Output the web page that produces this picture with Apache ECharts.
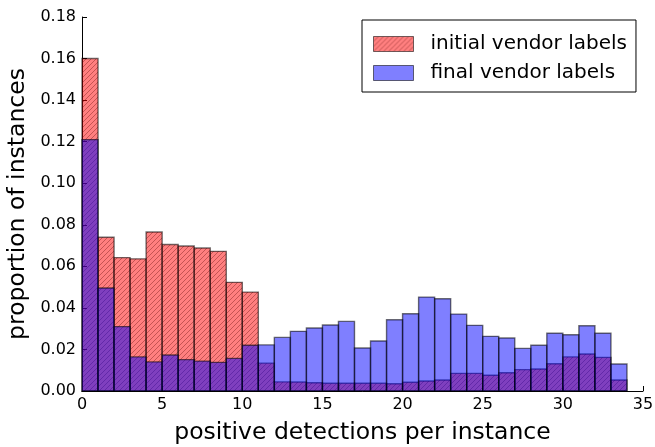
<!DOCTYPE html>
<html>
<head>
<meta charset="utf-8">
<script src="https://cdn.jsdelivr.net/npm/echarts@6/dist/echarts.min.js"></script>
<style>
  html, body { margin: 0; padding: 0; background: #fff; }
  #chart { width: 655px; height: 447px; }
</style>
</head>
<body>
<div id="chart"></div>
<script>
// Histogram bins: left edge of each unit-width bin
const binStart = [0,1,2,3,4,5,6,7,8,9,10,11,12,13,14,15,16,17,18,19,20,21,22,23,24,25,26,27,28,29,30,31,32,33];
// Proportion of instances per bin, initial vendor labels
const initialLabels = [0.160, 0.074, 0.0642, 0.0636, 0.0765, 0.0705, 0.0698, 0.0688, 0.0672, 0.0523, 0.0476, 0.0134, 0.0044, 0.0043, 0.0040, 0.0037, 0.0037, 0.0037, 0.0037, 0.0035, 0.0042, 0.0048, 0.0053, 0.0085, 0.0085, 0.0076, 0.0088, 0.0103, 0.0106, 0.0131, 0.0164, 0.0178, 0.0162, 0.0053];
// Proportion of instances per bin, final vendor labels
const finalLabels = [0.121, 0.0496, 0.031, 0.0164, 0.014, 0.0173, 0.0151, 0.0144, 0.0138, 0.0157, 0.022, 0.0222, 0.0258, 0.0287, 0.0303, 0.0318, 0.0335, 0.0207, 0.0241, 0.0343, 0.0372, 0.0452, 0.0444, 0.037, 0.0316, 0.0263, 0.0255, 0.0205, 0.022, 0.0278, 0.0271, 0.0314, 0.0278, 0.013];
const seriesNames = ['initial vendor labels', 'final vendor labels'];
const xTicks = [0, 5, 10, 15, 20, 25, 30, 35];
const yTicks = [0, 0.02, 0.04, 0.06, 0.08, 0.10, 0.12, 0.14, 0.16, 0.18];

const FONT = '"DejaVu Sans", sans-serif';

// Diagonal hatch tile for the red histogram
function hatchTile() {
  const s = 5;
  const c = document.createElement('canvas');
  c.width = s; c.height = s;
  const g = c.getContext('2d');
  g.fillStyle = 'rgba(255,0,0,0.5)';
  g.fillRect(0, 0, s, s);
  g.strokeStyle = 'rgba(90,0,0,0.35)';
  g.lineWidth = 1;
  g.beginPath();
  g.moveTo(0, s); g.lineTo(s, 0);
  g.moveTo(-1, 1); g.lineTo(1, -1);
  g.moveTo(s - 1, s + 1); g.lineTo(s + 1, s - 1);
  g.stroke();
  return c;
}
const redFill = { image: hatchTile(), repeat: 'repeat' };
const blueFill = 'rgba(0,0,255,0.5)';
const edge = 'rgba(0,0,0,0.55)';

function histRender(fill) {
  return function (params, api) {
    const x = api.value(0), y = api.value(1);
    const p0 = api.coord([x, 0]);
    const p1 = api.coord([x + 1, y]);
    return {
      type: 'rect',
      shape: { x: p0[0], y: p1[1], width: p1[0] - p0[0], height: p0[1] - p1[1] },
      style: { fill: fill, stroke: edge, lineWidth: 1.4 }
    };
  };
}

const chart = echarts.init(document.getElementById('chart'));
chart.setOption({
  animation: false,
  grid: { left: 82, right: 12, top: 17, bottom: 56, containLabel: false, outerBoundsMode: 'none' },
  legend: {
    orient: 'vertical',
    left: 362, top: 20,
    padding: [14, 9, 9, 11],
    itemGap: 9,
    itemWidth: 40, itemHeight: 15,
    borderColor: '#000', borderWidth: 1, borderRadius: 0,
    textStyle: { fontFamily: FONT, fontSize: 20, color: '#000', padding: [0, 0, 0, 12] },
    data: [
      { name: seriesNames[0], icon: 'rect', itemStyle: { color: redFill, borderColor: edge, borderWidth: 1 } },
      { name: seriesNames[1], icon: 'rect', itemStyle: { color: blueFill, borderColor: edge, borderWidth: 1 } }
    ]
  },
  xAxis: {
    type: 'value', min: 0, max: 35, interval: 5,
    name: 'positive detections per instance',
    nameLocation: 'middle', nameGap: 30,
    nameTextStyle: { fontFamily: FONT, fontSize: 23.5, color: '#000' },
    axisLine: { show: true, lineStyle: { color: '#000', width: 1 } },
    axisTick: { show: true, inside: true, length: 5, lineStyle: { color: '#000' } },
    axisLabel: { fontFamily: FONT, fontSize: 16, color: '#000', margin: 6,
      customValues: xTicks },
    splitLine: { show: false }
  },
  yAxis: {
    type: 'value', min: 0, max: 0.18, interval: 0.02,
    name: 'proportion of instances',
    nameLocation: 'middle', nameGap: 48,
    nameTextStyle: { fontFamily: FONT, fontSize: 23.5, color: '#000' },
    axisLine: { show: true, lineStyle: { color: '#000', width: 1 } },
    axisTick: { show: true, inside: true, length: 5, lineStyle: { color: '#000' } },
    axisLabel: { fontFamily: FONT, fontSize: 16, color: '#000', margin: 6,
      formatter: v => v.toFixed(2), customValues: yTicks },
    splitLine: { show: false }
  },
  series: [
    {
      name: seriesNames[0], type: 'custom',
      itemStyle: { color: 'rgba(255,0,0,0.5)' },
      renderItem: histRender(redFill),
      data: binStart.map((b, i) => [b, initialLabels[i]]),
      encode: { x: 0, y: 1 }
    },
    {
      name: seriesNames[1], type: 'custom',
      itemStyle: { color: blueFill },
      renderItem: histRender(blueFill),
      data: binStart.map((b, i) => [b, finalLabels[i]]),
      encode: { x: 0, y: 1 }
    }
  ]
});
</script>
</body>
</html>
